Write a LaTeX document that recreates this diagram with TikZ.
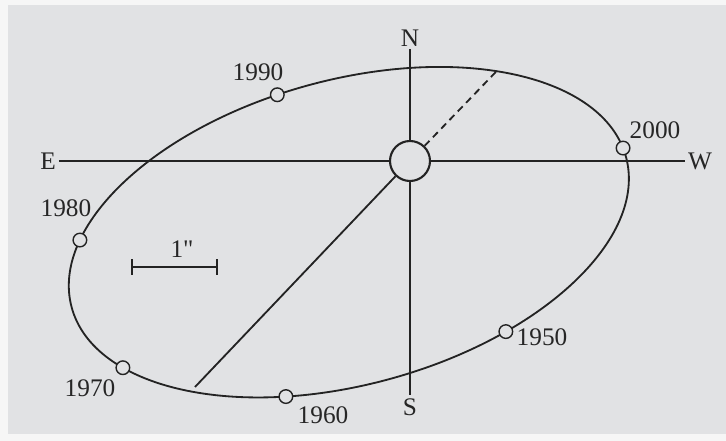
\documentclass[tikz,border=0pt]{standalone}
\usepackage{fontspec}
\setmainfont{Liberation Serif}
\newfontfamily\rawserif{Liberation Serif}[Ligatures=TeXOff]
\usepackage{tikz}
\usetikzlibrary{positioning, calc, arrows.meta}
\definecolor{paperc}{RGB}{225,226,228}
\definecolor{marginc}{RGB}{246,246,246}
\definecolor{inkc}{RGB}{35,35,35}

\begin{document}
\begin{tikzpicture}[font=\fontsize{18}{21}\selectfont, color=inkc,
  orbit/.style={line width=1.3pt},
  axisline/.style={line width=1.8pt},
  compass/.style={inner sep=2pt, text=black!85},
  epoch/.style={draw, circle, fill=paperc, minimum size=0.34cm, inner sep=0pt, line width=1pt},
  year/.style={inner sep=0pt, text=black!85}]

% frame: 726x441 px, 1px = 0.025cm; orbit centre (8.721,5.22), a=7.18, b=3.81, tilt 15.2

%% ── paper ────────────────────────────────────────────────────────
\useasboundingbox (0,0) rectangle (18.15,11.025);
\fill[marginc] (0,0) rectangle (18.15,11.025);
\fill[paperc]  (0.2,0.175) rectangle (18.15,10.9);

%% ── apparent orbit ───────────────────────────────────────────────
\draw[orbit, rotate around={15.2:(8.721,5.22)}] (8.721,5.22) ellipse [x radius=7.18, y radius=3.81];

%% ── compass and primary ──────────────────────────────────────────
\node[compass] (N) at (10.25,10.075) {N};
\node[compass] (S) at (10.25,0.85)   {S};
\node[compass] (E) at (1.2,7)        {E};
\node[compass] (W) at (17.5,7)       {W};
\node[draw, circle, minimum size=1cm, inner sep=0pt, line width=1.5pt, fill=paperc] (star) at (10.25,7) {};

\draw[axisline] (E) -- (star);
\draw[axisline] (star) -- (W);
\draw[axisline] (N) -- (star);
\draw[axisline] (star) -- (S);

%% ── line of apsides ──────────────────────────────────────────────
\coordinate (peri) at (12.4,9.23);
\coordinate (apo)  at (4.875,1.35);
\draw[orbit, dash pattern=on 5pt off 3.5pt] (star) -- (peri);
\draw[orbit] (star) -- (apo);

%% ── epochs on the orbit ──────────────────────────────────────────
\node[epoch] (e1950) at (12.646,2.735) {};
\node[epoch] (e1960) at (7.147,1.111)  {};
\node[epoch] (e1970) at (3.072,1.832)  {};
\node[epoch] (e1980) at (1.998,5.024)  {};
\node[epoch] (e1990) at (6.932,8.656)  {};
\node[epoch] (e2000) at (15.576,7.324) {};

\node[year] (l1950) at (13.55,2.6)    {1950};
\node[year] (l1960) at (8.075,0.65)   {1960};
\node[year] (l1970) at (2.25,1.325)   {1970};
\node[year] (l1980) at (1.65,5.81)    {1980};
\node[year] (l1990) at (6.45,9.225)   {1990};
\node[year] (l2000) at (16.375,7.775) {2000};

%% ── scale bar ────────────────────────────────────────────────────
\coordinate (bar1) at (3.275,4.35);
\coordinate (bar2) at (5.45,4.35);
\draw[orbit, {Bar[width=0.38cm]}-{Bar[width=0.38cm]}] (bar1) -- (bar2);
\node[year] (barlbl) at (4.55,4.8) {\rawserif 1"};

\end{tikzpicture}
\end{document}
